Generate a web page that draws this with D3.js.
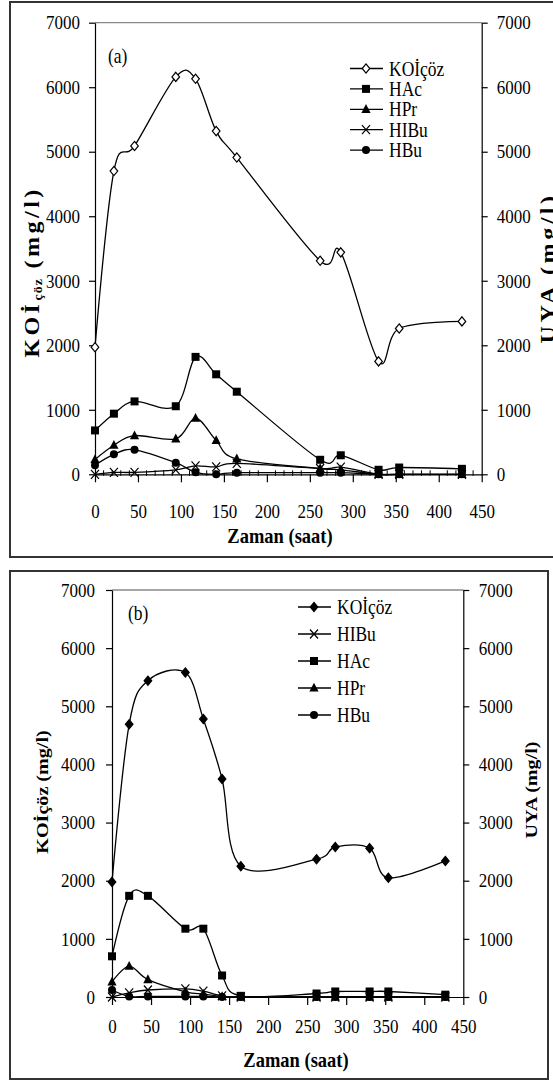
<!DOCTYPE html>
<html lang="tr">
<head>
<meta charset="UTF-8">
<title>KOİçöz ve UYA - zaman</title>
<script src="https://cdn.jsdelivr.net/npm/d3@7"></script>
<style>
  body { margin: 0; background: #fff; }
  svg { display: block; }
  svg text { font-family: "Liberation Serif", "Times New Roman", serif; fill: #000; }
  .axis path, .axis line { stroke: #000; stroke-width: 1.2; }
  .axis text { font-size: 17px; }
  .series { fill: none; stroke: #000; stroke-width: 1.3; }
  .title { font-weight: bold; }
</style>
</head>
<body>
<svg width="553" height="1081"></svg>
<script>
// sampling times (hours), same for both runs
const hours = [0, 22, 46, 94, 117, 141, 165, 262, 286, 330, 354, 427];

// panel (a)
const koiA  = [1970, 4700, 5090, 6160, 6130, 5320, 4910, 3310, 3440, 1750, 2260, 2370];
const hacA  = [680, 940, 1130, 1055, 1820, 1550, 1280, 225, 295, 70, 105, 85];
const hprA  = [230, 450, 600, 550, 870, 525, 240, 90, 70, 0, 0, 0];
const hibuA = [0, 30, 30, 70, 130, 115, 170, 90, 110, 0, 0, 0];
const hbuA  = [140, 310, 380, 180, 30, 0, 25, 25, 25, 0, 0, 0];

// panel (b)
const koiB  = [1980, 4690, 5440, 5580, 4780, 3750, 2250, 2370, 2580, 2560, 2050, 2340];
const hacB  = [700, 1740, 1740, 1175, 1175, 370, 20, 60, 95, 95, 95, 40];
const hprB  = [260, 530, 300, 90, 50, 10, 0, 0, 0, 0, 0, 0];
const hibuB = [0, 70, 120, 140, 100, 20, 0, 0, 0, 0, 0, 0];
const hbuB  = [120, 10, 10, 10, 10, 0, 0, 0, 0, 0, 0, 0];

const xTicks = [0, 50, 100, 150, 200, 250, 300, 350, 400, 450];
const yTicks = [0, 1000, 2000, 3000, 4000, 5000, 6000, 7000];

const SY = 1.15; // the scanned figure is a bit stretched vertically
const FONT = '"Liberation Serif", "Times New Roman", serif';
const svg = d3.select('svg');

function marker(g, type, cx, cy, fill) {
  if (type === 'diamond') {
    g.append('path').attr('d', `M${cx},${cy - 4.6}L${cx + 3.8},${cy}L${cx},${cy + 4.6}L${cx - 3.8},${cy}Z`)
      .attr('fill', fill ? '#000' : '#fff').attr('stroke', '#000').attr('stroke-width', 1.2);
  } else if (type === 'square') {
    g.append('rect').attr('x', cx - 4).attr('y', cy - 4).attr('width', 8).attr('height', 8).attr('fill', '#000');
  } else if (type === 'triangle') {
    g.append('path').attr('d', `M${cx},${cy - 5.2}L${cx + 4.6},${cy + 3.6}L${cx - 4.6},${cy + 3.6}Z`).attr('fill', '#000');
  } else if (type === 'x') {
    g.append('path').attr('d', `M${cx - 4},${cy - 4.5}L${cx + 4},${cy + 4.5}M${cx - 4},${cy + 4.5}L${cx + 4},${cy - 4.5}`)
      .attr('stroke', '#000').attr('stroke-width', 1.2);
  } else {
    g.append('circle').attr('cx', cx).attr('cy', cy).attr('r', 4).attr('fill', '#000');
  }
}

function text(g, x, y, str, size, anchor) {
  return g.append('text')
    .attr('transform', `translate(${x},${y}) scale(1,${SY})`)
    .attr('font-family', FONT)
    .attr('font-size', size).attr('text-anchor', anchor || 'start')
    .text(str);
}

function vtitle(g, x, y, size, spacing) {
  return g.append('text').attr('class', 'title')
    .attr('transform', `translate(${x},${y}) rotate(-90) scale(${SY},1)`)
    .attr('font-family', FONT)
    .attr('font-size', size).attr('text-anchor', 'middle')
    .attr('letter-spacing', spacing);
}

function drawPanel(p) {
  const x = d3.scaleLinear().domain([0, 450]).range([p.left, p.right]);
  const y = d3.scaleLinear().domain([0, 7000]).range([p.bottom, p.top]);
  const g = svg.append('g');

  g.append('rect').attr('x', p.box[0]).attr('y', p.box[1]).attr('width', p.box[2]).attr('height', p.box[3])
    .attr('fill', 'none').attr('stroke', '#333').attr('stroke-width', 2);

  g.append('line').attr('x1', p.left).attr('x2', p.right).attr('y1', p.top).attr('y2', p.top)
    .attr('stroke', '#888').attr('stroke-width', 1.3);

  if (p.minor) {
    const minors = d3.range(10, 450, 10).filter(v => v % 50 !== 0);
    g.selectAll('.minor').data(minors).join('line').attr('class', 'minor')
      .attr('x1', d => x(d)).attr('x2', d => x(d))
      .attr('y1', p.bottom - 4).attr('y2', p.bottom + 1.5)
      .attr('stroke', '#000').attr('stroke-width', 1);
  }

  const fmt = d3.format('d');

  const gx = g.append('g').attr('class', 'axis').attr('transform', `translate(0,${p.bottom})`)
    .call(d3.axisBottom(x).tickValues(xTicks).tickFormat(fmt).tickSize(8).tickPadding(p.xPad).tickSizeOuter(0));
  const gl = g.append('g').attr('class', 'axis').attr('transform', `translate(${p.left},0)`)
    .call(d3.axisLeft(y).tickValues(yTicks).tickFormat(fmt).tickSize(6).tickPadding(p.yPad).tickSizeOuter(0));
  const gr = g.append('g').attr('class', 'axis').attr('transform', `translate(${p.right},0)`)
    .call(d3.axisRight(y).tickValues(yTicks).tickFormat(fmt).tickSize(6).tickPadding(p.rPad).tickSizeOuter(0));

  [gx, gl, gr].forEach(a => {
    a.attr('font-family', FONT).attr('font-size', 17);
    a.selectAll('text').attr('transform', `scale(1,${SY})`);
  });

  const line = d3.line().x(d => x(d[0])).y(d => y(d[1])).curve(d3.curveCardinal);

  p.series.forEach(s => {
    const pts = hours.map((h, i) => [h, s.values[i]]);
    g.append('path').attr('class', 'series').attr('d', line(pts));
    pts.forEach(d => marker(g, s.marker, x(d[0]), y(d[1]), s.filled));
  });

  // legend
  p.legend.forEach((s, i) => {
    const ly = p.legY + i * p.legStep;
    g.append('line').attr('x1', p.legX).attr('x2', p.legX + 33).attr('y1', ly).attr('y2', ly)
      .attr('stroke', '#000').attr('stroke-width', 1.3);
    marker(g, s.marker, p.legX + 16, ly, s.filled);
    text(g, p.legX + 39, ly + 7, s.name, 17.5);
  });

  text(g, p.tag[0], p.tag[1], p.tag[2], 17.5);

  g.append('text').attr('class', 'title')
    .attr('transform', `translate(${p.xTitle[0]},${p.xTitle[1]}) scale(1,${SY})`)
    .attr('font-family', FONT)
    .attr('font-size', 18.5).attr('text-anchor', 'middle').text('Zaman (saat)');

  return g;
}

const seriesA = [
  { name: 'KOİçöz', values: koiA, marker: 'diamond', filled: false },
  { name: 'HAc', values: hacA, marker: 'square', filled: true },
  { name: 'HPr', values: hprA, marker: 'triangle', filled: true },
  { name: 'HIBu', values: hibuA, marker: 'x', filled: true },
  { name: 'HBu', values: hbuA, marker: 'circle', filled: true }
];

const seriesB = [
  { name: 'KOİçöz', values: koiB, marker: 'diamond', filled: true },
  { name: 'HIBu', values: hibuB, marker: 'x', filled: true },
  { name: 'HAc', values: hacB, marker: 'square', filled: true },
  { name: 'HPr', values: hprB, marker: 'triangle', filled: true },
  { name: 'HBu', values: hbuB, marker: 'circle', filled: true }
];

const gA = drawPanel({
  left: 95, right: 481.7, top: 22.7, bottom: 474.3,
  box: [10, 2, 560, 555], minor: true,
  xPad: 18, yPad: 9, rPad: 9,
  series: seriesA, legend: seriesA,
  legX: 350, legY: 68.5, legStep: 20.4,
  tag: [108, 63, '(a)'],
  xTitle: [280, 543]
});

const tA = vtitle(gA, 39, 272, 21, 3);
tA.append('tspan').text('KOİ');
tA.append('tspan').attr('font-size', 12).attr('dy', 3).attr('letter-spacing', 1).text('çöz');
tA.append('tspan').attr('dy', -3).text(' (mg/l)');
vtitle(gA, 555, 268, 21, 3).text('UYA (mg/l)');

const gB = drawPanel({
  left: 112, right: 463.3, top: 590, bottom: 997,
  box: [10, 571, 538, 508], minor: false,
  xPad: 11.5, yPad: 11, rPad: 9.5,
  series: seriesB, legend: seriesB,
  legX: 298, legY: 607, legStep: 27,
  tag: [128, 620, '(b)'],
  xTitle: [296, 1067]
});

vtitle(gB, 48, 792, 17.5, 0).text('KOİçöz (mg/l)');
vtitle(gB, 537, 790, 17.5, 0).text('UYA (mg/l)');
</script>
</body>
</html>
